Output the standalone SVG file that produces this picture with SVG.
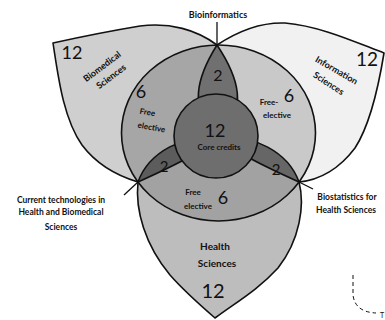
<svg xmlns="http://www.w3.org/2000/svg" width="385" height="320" viewBox="0 0 385 320">
<style>
.ol{fill:none;stroke:#111;stroke-width:1.6;stroke-linejoin:round}
.ln{fill:none;stroke:#111;stroke-width:1.3}
.t{font-family:Lato,"Open Sans","Liberation Sans",sans-serif;fill:#111;text-anchor:middle}
.b{font-weight:bold}
.n{font-size:18px}
.s{font-size:8px;font-weight:bold}
.m{font-size:9px;font-weight:bold}
</style>
<defs>
<path id="pL" d="M217,45 C197,30 170,22 140,26 C110,31 80,37 53,43 C58,75 63,118 82,145 C97,165 118,176 138,182 C220,145 267,120 217,45 Z"/>
<path id="pR" d="M217,45 C235,33 258,22 285,23 C320,26 355,42 384,53 C378,90 370,125 355,148 C340,168 320,180 299,182 C217,145 170,120 217,45 Z"/>
<path id="pB" d="M138,182 C135,210 145,245 170,275 C185,292 200,305 215,318 C235,303 258,290 278,268 C300,240 305,205 299,182 C277,120 160,120 138,182 Z"/>
<ellipse id="el" cx="218.5" cy="133" rx="97" ry="88"/>
<clipPath id="cE"><use href="#el"/></clipPath>
<clipPath id="cL"><use href="#pL"/></clipPath>
<clipPath id="cR"><use href="#pR"/></clipPath>
<clipPath id="cB"><use href="#pB"/></clipPath>
</defs>
<rect width="385" height="320" fill="#fff"/>
<g id="biomedical-sciences">
<use href="#pL" fill="#cfcfcf"/>
<use href="#pL" fill="#a6a6a6" clip-path="url(#cE)"/>
</g>
<g id="information-sciences">
<use href="#pR" fill="#f1f1f1"/>
<use href="#pR" fill="#c9c9c9" clip-path="url(#cE)"/>
</g>
<g id="health-sciences">
<use href="#pB" fill="#bdbdbd"/>
<use href="#pB" fill="#a2a2a2" clip-path="url(#cE)"/>
</g>
<g id="bioinformatics-lens"><use href="#pL" fill="#707070" clip-path="url(#cR)"/></g>
<g id="current-tech-lens"><use href="#pL" fill="#5c5c5c" clip-path="url(#cB)"/></g>
<g id="biostatistics-lens"><use href="#pR" fill="#666666" clip-path="url(#cB)"/></g>
<g id="outlines">
<use href="#pL" class="ol"/>
<use href="#pR" class="ol"/>
<use href="#pB" class="ol"/>
<use href="#el" class="ol"/>
</g>
<g id="core">
<circle cx="216" cy="136" r="42" fill="#6e6e6e" stroke="#111" stroke-width="1.6"/>
<text class="t n" x="215" y="137">12</text>
<text class="t s" x="219" y="150">Core credits</text>
</g>
<g id="connectors">
<line class="ln" x1="217" y1="22" x2="217" y2="45"/>
<line class="ln" x1="124" y1="195" x2="138" y2="182"/>
<line class="ln" x1="299" y1="182" x2="313" y2="189"/>
<path d="M353,275 L353,295 Q355,312 376,313" fill="none" stroke="#111" stroke-width="1" stroke-dasharray="4,3"/>
</g>
<g id="labels">
<text class="t m" x="218" y="18">Bioinformatics</text>
<text class="t n" x="72" y="59">12</text>
<text class="t n" x="367" y="66" style="font-size:19px">12</text>
<text class="t m" transform="translate(104,69) rotate(-37)">Biomedical</text>
<text class="t m" transform="translate(113,79) rotate(-37)">Sciences</text>
<text class="t m" transform="translate(335,73) rotate(30)">Information</text>
<text class="t m" transform="translate(327,86) rotate(33)">Sciences</text>
<text class="t n" x="141" y="98">6</text>
<text class="t s" transform="translate(147,115) rotate(10)">Free</text>
<text class="t s" transform="translate(151,130) rotate(10)">elective</text>
<text class="t n" x="218" y="81" style="font-size:16px">2</text>
<text class="t s" x="269" y="105">Free-</text>
<text class="t s" x="277" y="118">elective</text>
<text class="t n" x="289" y="102">6</text>
<text class="t n" x="164" y="172" style="font-size:15px">2</text>
<text class="t n" x="276" y="175" style="font-size:15px">2</text>
<text class="t s" x="193" y="195">Free</text>
<text class="t s" x="198" y="209">elective</text>
<text class="t n" x="223" y="204">6</text>
<text class="t b" x="215" y="250" style="font-size:10px">Health</text>
<text class="t b" x="217" y="267" style="font-size:10px">Sciences</text>
<text class="t n" x="213" y="298" style="font-size:20px">12</text>
<text class="t s" x="61" y="203" style="font-size:8.5px">Current technologies in</text>
<text class="t s" x="61" y="215" style="font-size:8.5px">Health and Biomedical</text>
<text class="t s" x="61" y="230" style="font-size:8.5px">Sciences</text>
<text class="t s" x="347" y="200" style="font-size:8.5px">Biostatistics for</text>
<text class="t s" x="346" y="213" style="font-size:8.5px">Health Sciences</text>
<text class="t" x="382" y="318" style="font-size:7px">T</text>
</g>
</svg>
